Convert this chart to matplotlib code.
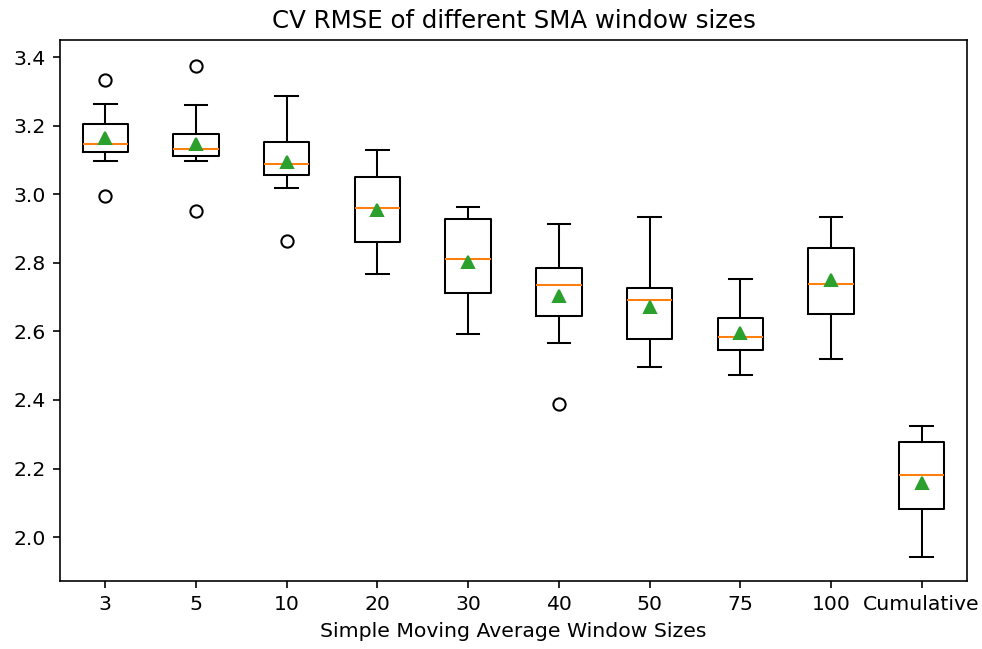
import matplotlib
matplotlib.use("Agg")
import matplotlib.pyplot as plt

labels = ["3", "5", "10", "20", "30", "40", "50", "75", "100", "Cumulative"]
whislo = [3.097, 3.097, 3.018, 2.767, 2.592, 2.566, 2.496, 2.473, 2.519, 1.942]
q1     = [3.124, 3.111, 3.057, 2.861, 2.712, 2.644, 2.578, 2.546, 2.651, 2.081]
med    = [3.147, 3.133, 3.088, 2.961, 2.810, 2.735, 2.692, 2.584, 2.739, 2.180]
q3     = [3.205, 3.177, 3.153, 3.051, 2.929, 2.784, 2.728, 2.640, 2.844, 2.278]
whishi = [3.262, 3.260, 3.288, 3.130, 2.962, 2.913, 2.934, 2.754, 2.934, 2.323]
means  = [3.165, 3.148, 3.095, 2.954, 2.802, 2.703, 2.672, 2.596, 2.749, 2.159]
fliers = [[3.334, 2.996], [3.374, 2.951], [2.865], [], [], [2.389], [], [], [], []]

stats = []
for i, lab in enumerate(labels):
    stats.append(dict(label=lab, whislo=whislo[i], q1=q1[i], med=med[i],
                      q3=q3[i], whishi=whishi[i], mean=means[i], fliers=fliers[i]))

DPI = 147
fig = plt.figure(figsize=(982/DPI, 649/DPI), dpi=DPI)
ax = fig.add_axes([60/982, (649-581)/649, (967-60)/982, (581-40)/649])
ax.bxp(stats, showmeans=True)
ax.set_ylim(1.872, 3.450)
ax.set_title("CV RMSE of different SMA window sizes", fontsize=12)
ax.set_xlabel("Simple Moving Average Window Sizes")
fig.savefig("out.png", dpi=DPI)
